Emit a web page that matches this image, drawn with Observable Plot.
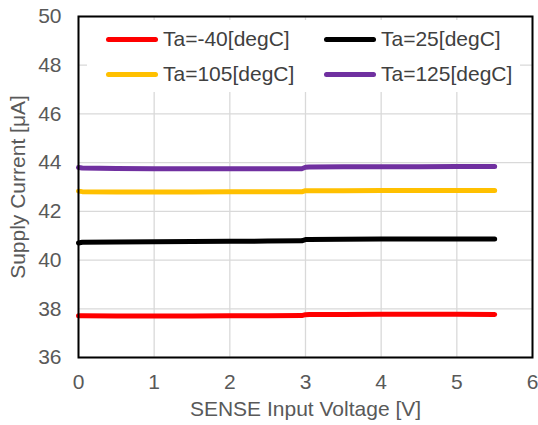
<!DOCTYPE html>
<html><head><meta charset="utf-8">
<script src="https://cdn.jsdelivr.net/npm/d3@7"></script>
<script src="https://cdn.jsdelivr.net/npm/@observablehq/plot@0.6"></script>
<style>
body{margin:0;background:#fff;font-family:"Liberation Sans",Arial,sans-serif;}
#wrap{position:relative;width:538px;height:425px;}
#legend{position:absolute;left:87px;top:20px;width:433px;height:72px;background:#fff;}
.item{position:absolute;display:flex;align-items:center;font-size:21px;color:#404040;font-family:"Liberation Sans",Arial,sans-serif;}
.sw{width:52px;height:5px;border-radius:3px;margin-right:5px;}
</style></head>
<body><div id="wrap"><div id="legend"></div></div>
<script>
const voltage = [0, 0.05, 0.5, 1, 1.5, 2, 2.5, 2.95, 3.0, 3.05, 3.5, 4, 4.5, 5, 5.5];
const seriesNames = ["Ta=-40[degC]", "Ta=25[degC]", "Ta=105[degC]", "Ta=125[degC]"];
const seriesColors = ["#FF0000", "#000000", "#FFC000", "#7030A0"];
const curM40 = [37.71, 37.71, 37.70, 37.70, 37.70, 37.71, 37.71, 37.72, 37.76, 37.77, 37.77, 37.78, 37.78, 37.78, 37.77];
const cur25  = [40.70, 40.73, 40.74, 40.75, 40.76, 40.77, 40.78, 40.79, 40.84, 40.84, 40.85, 40.86, 40.86, 40.86, 40.86];
const cur105 = [42.83, 42.81, 42.79, 42.79, 42.79, 42.80, 42.80, 42.80, 42.85, 42.85, 42.85, 42.86, 42.86, 42.86, 42.86];
const cur125 = [43.80, 43.78, 43.76, 43.75, 43.75, 43.75, 43.75, 43.75, 43.81, 43.82, 43.83, 43.83, 43.83, 43.84, 43.84];
const xTicks = [0, 1, 2, 3, 4, 5, 6];
const yTicks = [36, 38, 40, 42, 44, 46, 48, 50];

const allSeries = [curM40, cur25, cur105, cur125];
const data = [];
allSeries.forEach((vals, i) => vals.forEach((v, j) => data.push({series: seriesNames[i], x: voltage[j], y: v})));

const chart = Plot.plot({
  width: 538, height: 425,
  marginLeft: 78, marginRight: 6, marginTop: 16, marginBottom: 68,
  style: {fontFamily: '"Liberation Sans", Arial, sans-serif', fontSize: "21px", color: "#595959", background: "#fff"},
  x: {domain: [0, 6]},
  y: {domain: [36, 50]},
  color: {domain: seriesNames, range: seriesColors},
  marks: [
    Plot.gridX(xTicks, {stroke: "#D9D9D9", strokeOpacity: 1, strokeWidth: 1.3}),
    Plot.gridY(yTicks, {stroke: "#D9D9D9", strokeOpacity: 1, strokeWidth: 1.3}),
    Plot.axisX(xTicks, {tickSize: 0, tickPadding: 17, fontSize: 21, label: "SENSE Input Voltage [V]", labelAnchor: "center", labelArrow: false, labelOffset: 58, fill: "#595959"}),
    Plot.axisY(yTicks, {tickSize: 0, tickPadding: 17, fontSize: 21, label: "Supply Current [μA]", labelAnchor: "center", labelArrow: false, labelOffset: 68, fill: "#595959"}),
    Plot.line(data, {x: "x", y: "y", z: "series", stroke: "series", strokeWidth: 5, curve: "linear", strokeLinecap: "round", strokeLinejoin: "round"}),
    Plot.frame({stroke: "#000", strokeWidth: 2})
  ]
});
const wrap = document.getElementById("wrap");
wrap.insertBefore(chart, wrap.firstChild);

const legend = document.getElementById("legend");
const pos = [[19, 20], [237, 20], [19, 55], [237, 55]];
seriesNames.forEach((n, i) => {
  const d = document.createElement("div");
  d.className = "item";
  d.style.left = pos[i][0] + "px";
  d.style.top = (pos[i][1] - 13) + "px";
  d.innerHTML = `<div class="sw" style="background:${seriesColors[i]}"></div><span>${n}</span>`;
  legend.appendChild(d);
});
</script></body></html>
